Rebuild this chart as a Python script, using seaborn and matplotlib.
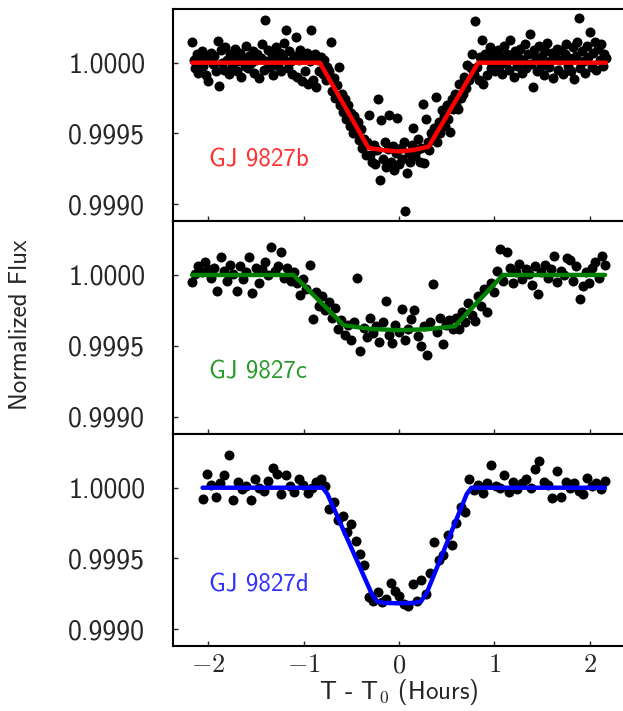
import numpy as np
import pandas as pd
import matplotlib
matplotlib.use("Agg")
import matplotlib.pyplot as plt
from matplotlib.ticker import FormatStrFormatter
import seaborn as sns

sns.set_style("ticks")
plt.rcParams['font.family'] = ['cmss10', 'DejaVu Sans']
plt.rcParams['mathtext.fontset'] = 'cm'
plt.rcParams['axes.unicode_minus'] = False

# --- data, flux given as ppm offset from 1 ---
# GJ 9827b, 261 points between -2.17 and 2.17 h
time_b = np.linspace(-2.17, 2.17, 261)
ppm_b = [
    146, 20, -40, 60, -70, 10, 80, -20, 40, -90, -131, 30, 70,
    -10, 50, -60, 153, -167, 90, 0, -50, 110, 20, -80, 60, -30,
    40, 100, -60, 10, 70, -100, 30, -20, 120, -40, 50, 0, 80,
    -70, 20, 60, -110, 30, 134, -50, 303, 10, 90, -30, 60, -90,
    40, 110, -20, 70, -60, 30, 139, 232, -40, 80, 10, -80, 50,
    181, -100, 20, 90, -130, 40, -60, 70, -150, 10, 232, -120, 60,
    -170, 20, -60,
    40, -80, 20, -120, -30, -60, 146, -200, -110, -250, -160, -31, -300, -220, -350,
    -260, -400, -300, -450, -359, -500, -380, -480, -420, -550, -470, -600, -540, -650, -560,
    -373, -650, -700, -580, -720, -620, -254, -829, -402, -680, -560, -740, -610,
    -373, -700, -590, -760, -640, -389, -720, -600, -680, -560, -1047, -782, -640,
    -700, -580, -465, -660, -620, -540, -700, -600, -289, -711, -395, -560,
    -620, -500, -540, -460, -242, -559, -420, -500, -336, -380, -450, -300, -400, -488,
    -260, -330, -220, -300, -329, -150, -250, -218, -100, -180, -19, -120, -40, 60, -80,
    293, -30,
    -120, 40, 162, -148, 60, -90, 20, 110, -40, 70, -60, 10, 90,
    -30, 50, -80, 120, 0, 60, -50, 162, 30, -100, 80, -20, 40,
    100, -70, 20, 130, -40, 60, 204, -10, -171, 90, 30, -60, 120,
    -20, 50, -90, 80, 140, -30, 10, 70, -110, 40, 100, -50, 20,
    90, -80, 60, 130, -20, 30, -60, 110, -117, 50, 150, 317, -40,
    80, 10, -70, 120, 40, 216, -30, 70, 150, -50, 100, 20, 130,
    -20, 60, 30,
]
model_t_b = [-2.17, -0.83, -0.32, -0.15, 0.0, 0.15, 0.31, 0.83, 2.17]
model_ppm_b = [0, 0, -603, -620, -628, -618, -594, 0, 0]

# GJ 9827c, 131 points
time_c = np.linspace(-2.17, 2.16, 131)
ppm_c = [
    -50, 10, 60, 20, 90, 40, -20, 50, -113, 130, 30, -40, 70, 10, -113, 60,
    -30, 20, 125, -130, 50, -60, 40, 90, 0, 200, 30, 60, 160, -20, 50, -40,
    20, -60, -142, -30, -100, 71, -307, -120, -220, -150, -250, -190, -300, -230, -380, -320,
    -420, -350, -460, -330, -24, -538, -370, -440, -300, -410, -360, -470,
    -330, -184, -420, -480, -350, -400, -241, -460, -380, -310, -248, -430,
    -500, -360, -566, -330, -66, -400, -300, -484, -350, -320, -380,
    -300, -380, -260, -330, -200, -280, -326, -150, -220, -100, -260, -60, -120, 30, 182,
    -40, 165, 50, -60, 20, 80, -30, 40, 10, -70, 60, -137, 20, 70, -20, 40, 137,
    -50, 30, 0, 118, 106, -40, 60, -170, -80, 20, -60, 50, 90, -20, 135, 70,
]
model_t_c = [-2.17, -1.107, -0.58, -0.3, 0.0, 0.3, 0.586, 1.09, 2.16]
model_ppm_c = [0, 0, -354, -380, -389, -382, -361, 0, 0]

# GJ 9827d, 93 points
time_d = np.linspace(-2.06, 2.16, 93)
ppm_d = [
    -79, 100, 20, -63, 30, 89, 234, -86, 40, -10, 10, -86, 60, 0,
    -20, 50, 140, 100, -47, 93, 10, -30, 65, 20, -40, 0, 40, 65,
    14, -150, -100, -230, -203, -313, -260, -378, -470, -547, -776, -800,
    -740, -810, -790, -677, -729, -764, -820, -834, -682, -800, -654,
    -750, -600, -383, -514, -476, -336, -406, -250, -133, -173, 65,
    -16, 20, -40, 30, 164, 10, 0, 93, -28, 40, -10, 30, 60, 0, 135, 187,
    42, 20, -70, 117, -63, 37, 0, 30, -20, -47, 70, 10, 30, -10, 47,
]
model_t_d = [-2.06, -0.80, -0.75, -0.29, -0.23, -0.15, 0.0, 0.15, 0.23, 0.29, 0.71, 0.76, 2.16]
model_ppm_d = [0, 0, -45, -745, -805, -815, -818, -815, -805, -745, -45, 0, 0]

planets = ["GJ 9827b", "GJ 9827c", "GJ 9827d"]
line_colors = ["#ff0000", "#008000", "#0000ff"]
label_colors = ["#ff3030", "#2a9a2a", "#3030ff"]
xticks = [-2, -1, 0, 1, 2]
xtick_labels = [r"$\mathsf{-2}$", r"$\mathsf{-1}$", r"$\mathsf{0}$",
                r"$\mathsf{1}$", r"$\mathsf{2}$"]

panels = [
    (time_b, ppm_b, model_t_b, model_ppm_b),
    (time_c, ppm_c, model_t_c, model_ppm_c),
    (time_d, ppm_d, model_t_d, model_ppm_d),
]

fig = plt.figure(figsize=(6.23, 7.11), dpi=100)

# panel edges in pixels (top, bottom)
edges = [(9, 221), (221, 434), (434, 646)]
left, width = 173 / 623, 452 / 623

for k, (t, ppm, mt, mppm) in enumerate(panels):
    top, bot = edges[k]
    ax = fig.add_axes([left, 1 - bot / 711, width, (bot - top) / 711])
    pts = pd.DataFrame({"t": t, "flux": 1 + np.array(ppm) * 1e-6})
    mod = pd.DataFrame({"t": mt, "flux": 1 + np.array(mppm) * 1e-6})
    sns.scatterplot(data=pts, x="t", y="flux", ax=ax, color="black", s=52,
                    linewidth=0, zorder=2)
    sns.lineplot(data=mod, x="t", y="flux", ax=ax, color=line_colors[k], lw=3.2,
                 sort=False, estimator=None, zorder=3)
    ax.text(-1.99, 1 - 686e-6, planets[k], color=label_colors[k], fontsize=18,
            ha="left", va="center")
    ax.set_xlim(-2.37, 2.37)
    ax.set_ylim(0.99888, 1.00038)
    ax.set_yticks([0.9990, 0.9995, 1.0000])
    ax.yaxis.set_major_formatter(FormatStrFormatter('%.4f'))
    ax.set_xticks(xticks)
    ax.set_xticklabels(xtick_labels)
    ax.set_xlabel("")
    ax.set_ylabel("")
    ax.tick_params(direction="in", length=3.5, width=1, labelsize=19,
                   top=False, right=False)
    ax.tick_params(axis="y", pad=20, labelsize=20)
    ax.tick_params(axis="x", pad=6)
    for sp in ax.spines.values():
        sp.set_linewidth(1.5)
        sp.set_color("black")
    if k < 2:
        ax.tick_params(labelbottom=False)
    else:
        ax.set_xlabel(r"T - T$_\mathsf{0}$ (Hours)", fontsize=18, labelpad=0)

fig.text(21 / 623, 1 - 325 / 711, "Normalized Flux", rotation=90,
         fontsize=18, ha="center", va="center")

fig.savefig("out.png", dpi=100)
